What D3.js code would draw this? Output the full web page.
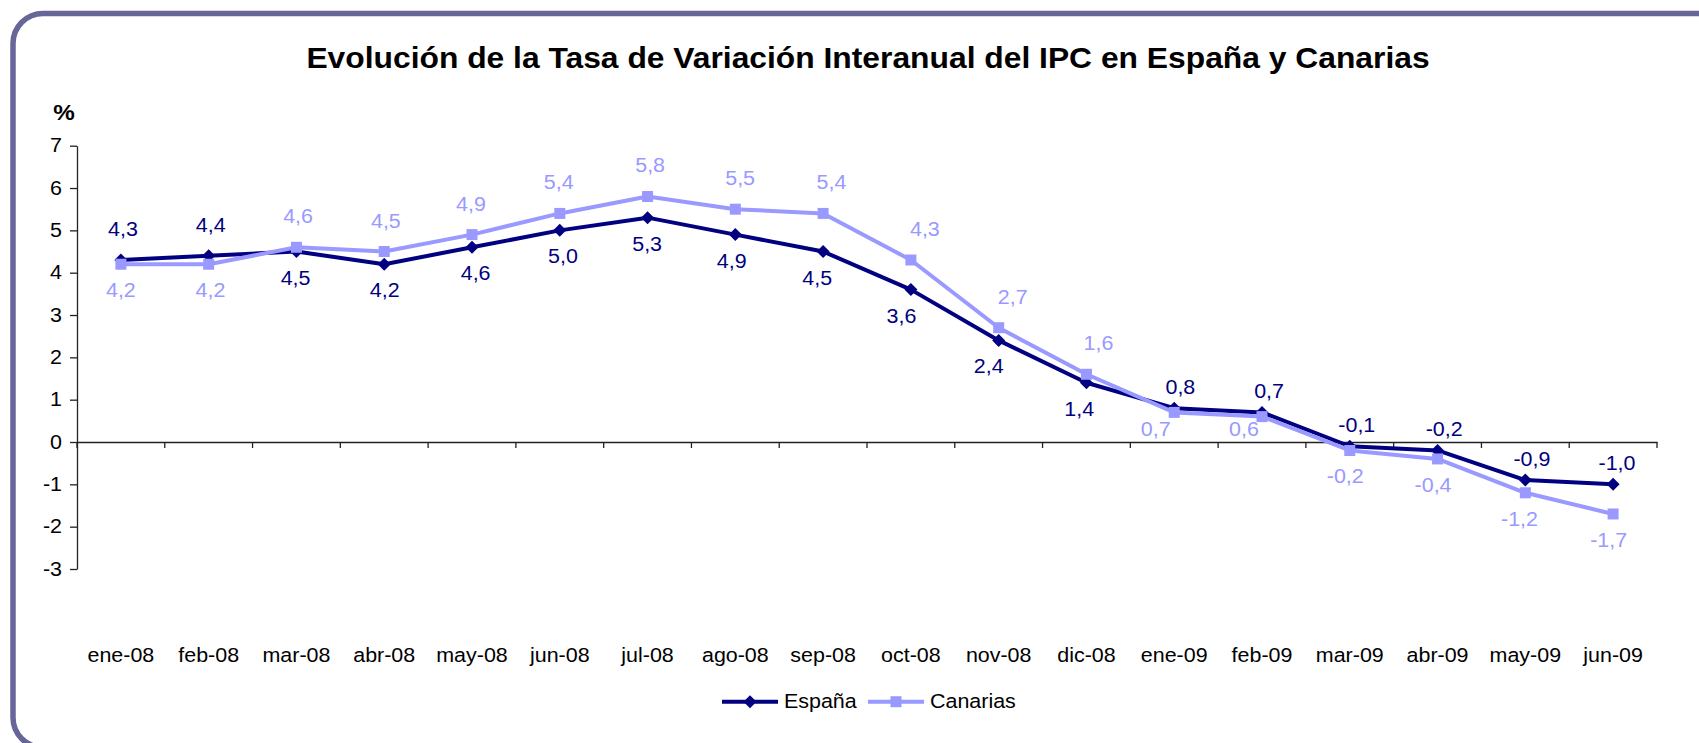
<!DOCTYPE html>
<html>
<head>
<meta charset="utf-8">
<script src="https://cdn.jsdelivr.net/npm/d3@7"></script>
<style>
  html, body { margin: 0; padding: 0; background: #fff; }
  svg { display: block; font-family: "Liberation Sans", Arial, sans-serif; }
</style>
</head>
<body>
<svg id="chart" width="1699" height="743"></svg>
<script>
// data
const months = ["ene-08", "feb-08", "mar-08", "abr-08", "may-08", "jun-08", "jul-08", "ago-08", "sep-08",
                "oct-08", "nov-08", "dic-08", "ene-09", "feb-09", "mar-09", "abr-09", "may-09", "jun-09"];
const espana = [4.3, 4.4, 4.5, 4.2, 4.6, 5.0, 5.3, 4.9, 4.5, 3.6, 2.4, 1.4, 0.8, 0.7, -0.1, -0.2, -0.9, -1.0];
const canarias = [4.2, 4.2, 4.6, 4.5, 4.9, 5.4, 5.8, 5.5, 5.4, 4.3, 2.7, 1.6, 0.7, 0.6, -0.2, -0.4, -1.2, -1.7];
const yTicks = [-3, -2, -1, 0, 1, 2, 3, 4, 5, 6, 7];
const seriesNames = ["España", "Canarias"];
const title = "Evolución de la Tasa de Variación Interanual del IPC en España y Canarias";

const navy = "#000080", lilac = "#9999ff";
const SX = 1.1;  // text in the original is a bit wider than tall

const svg = d3.select("#chart");

// frame with rounded corners, cut off on the right and bottom
svg.append("rect")
  .attr("x", 13).attr("y", 13.5)
  .attr("width", 1715).attr("height", 734)
  .attr("rx", 30).attr("ry", 30)
  .attr("fill", "none")
  .attr("stroke", "#666699")
  .attr("stroke-width", 5.5);

function label(g, x, y, s, sx) {
  return g.append("text")
    .attr("transform", `translate(${x},${y}) scale(${sx || SX},1)`)
    .text(s);
}

// title
label(svg, 868, 68, title, 1.06)
  .attr("text-anchor", "middle")
  .attr("font-size", 30)
  .attr("font-weight", "bold");

label(svg, 64, 120, "%")
  .attr("text-anchor", "middle")
  .attr("font-size", 22)
  .attr("font-weight", "bold");

const x = d3.scaleBand().domain(months).range([77, 1657]).padding(0);
const y = d3.scaleLinear().domain([-3, 7]).range([569, 145.7]);
const bw = x.bandwidth();
const cx = m => x(m) + bw / 2;

// y axis
const gy = svg.append("g")
  .attr("transform", "translate(77,0)")
  .call(d3.axisLeft(y).tickValues(yTicks).tickSize(7).tickSizeOuter(0).tickFormat(d => String(d)));
gy.selectAll("path, line").attr("stroke", "#222").attr("stroke-width", 1.3);
gy.selectAll("text")
  .attr("x", null)
  .attr("transform", "translate(-15,0) scale(" + SX + ",1)")
  .attr("font-size", 19.5)
  .attr("font-family", "Liberation Sans, Arial, sans-serif")
  .attr("fill", "#000");

// x axis on the zero line, labels far below
const gx = svg.append("g")
  .attr("transform", `translate(0,${y(0)})`)
  .call(d3.axisBottom(x).tickSize(0).tickSizeOuter(0));
gx.select("path").attr("stroke", "#222").attr("stroke-width", 1.3);
gx.selectAll("text")
  .attr("y", null).attr("dy", null)
  .attr("transform", `translate(0,${662 - y(0)}) scale(${SX},1)`)
  .attr("font-size", 19.5)
  .attr("font-family", "Liberation Sans, Arial, sans-serif")
  .attr("fill", "#000");

// tick marks between the categories
const bounds = months.map(m => x(m)).concat([x.range()[1]]);
svg.append("g").selectAll("line")
  .data(bounds)
  .join("line")
  .attr("x1", d => d).attr("x2", d => d)
  .attr("y1", y(0)).attr("y2", y(0) + 6)
  .attr("stroke", "#222").attr("stroke-width", 1.3);

const line = d3.line().x((d, i) => cx(months[i])).y(d => y(d));
const diamond = "M0,-6.5L6.5,0L0,6.5L-6.5,0Z";
const square = "M-5.5,-5.5H5.5V5.5H-5.5Z";

function drawSeries(vals, color, shape) {
  svg.append("path")
    .datum(vals)
    .attr("d", line)
    .attr("fill", "none")
    .attr("stroke", color)
    .attr("stroke-width", 4)
    .attr("stroke-linejoin", "round");
  svg.append("g").selectAll("path")
    .data(vals)
    .join("path")
    .attr("d", shape)
    .attr("transform", (d, i) => `translate(${cx(months[i])},${y(d)})`)
    .attr("fill", color);
}
drawSeries(espana, navy, diamond);
drawSeries(canarias, lilac, square);

// data labels: above for the higher series, below for the lower one
const fmt = v => d3.format(".1f")(v).replace(".", ",").replace("\u2212", "-");
function slopeAt(vals, i) {
  const lo = Math.max(0, i - 1), hi = Math.min(vals.length - 1, i + 1);
  return (vals[hi] - vals[lo]) / (hi - lo);
}
function drawLabels(vals, other, color) {
  const g = svg.append("g").attr("font-size", 19.5).attr("fill", color).attr("text-anchor", "middle");
  vals.forEach((v, i) => {
    const above = v >= other[i];
    const s = slopeAt(vals, i);
    let dx = above ? 3 - 9 * s : 9 * s;
    dx = Math.max(-14, Math.min(14, dx));
    let ly;
    if (above) {
      ly = y(v) - (v >= 1 ? 24 : 14);
    } else {
      ly = y(v) + 33;
      // keep positive labels clear of the zero line
      if (v > 0 && ly > y(0) - 6) { ly = y(0) - 6; dx -= 14; }
    }
    label(g, cx(months[i]) + dx, ly, fmt(v));
  });
}
drawLabels(espana, canarias, navy);
drawLabels(canarias, espana, lilac);

// legend
const legend = svg.append("g").attr("font-size", 19.5);
const items = [
  { name: seriesNames[0], color: navy, shape: diamond, x0: 722 },
  { name: seriesNames[1], color: lilac, shape: square, x0: 868 }
];
items.forEach(it => {
  legend.append("line")
    .attr("x1", it.x0).attr("x2", it.x0 + 56)
    .attr("y1", 701.7).attr("y2", 701.7)
    .attr("stroke", it.color).attr("stroke-width", 4);
  legend.append("path")
    .attr("d", it.shape)
    .attr("transform", `translate(${it.x0 + 28},701.7)`)
    .attr("fill", it.color);
  label(legend, it.x0 + 62, 708, it.name).attr("fill", "#000");
});
</script>
</body>
</html>
